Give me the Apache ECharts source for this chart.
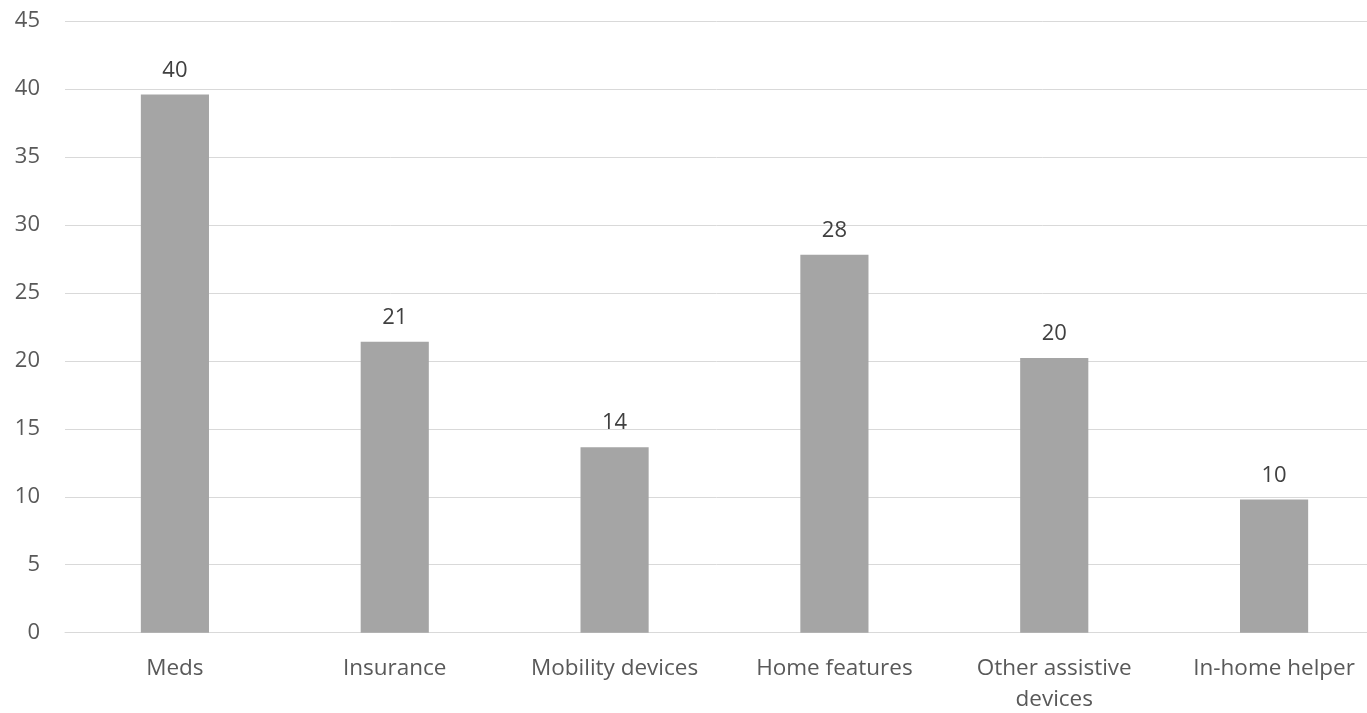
<!DOCTYPE html>
<html>
<head>
<meta charset="utf-8">
<script src="https://cdn.jsdelivr.net/npm/echarts@6/dist/echarts.min.js"></script>
<style>
html,body{margin:0;padding:0;background:#fff;}
#chart{width:1367px;height:713px;}
</style>
</head>
<body>
<div id="chart"></div>
<script>
const categories = ["Meds", "Insurance", "Mobility devices", "Home features", "Other assistive\ndevices", "In-home helper"];
const values = [39.6, 21.4, 13.65, 27.8, 20.2, 9.8];
const yTicks = { min: 0, max: 45, interval: 5 };

const chart = echarts.init(document.getElementById('chart'));
chart.setOption({
  animation: false,
  backgroundColor: '#ffffff',
  grid: { left: 65, width: 1319, top: 21, bottom: 80.3, containLabel: false, outerBoundsMode: 'none' },
  xAxis: {
    type: 'category',
    data: categories,
    axisLine: { show: true, lineStyle: { color: '#d9d9d9', width: 1 } },
    axisTick: { show: false },
    axisLabel: {
      color: '#595959', fontFamily: 'Open Sans', fontSize: 22.5,
      lineHeight: 31, margin: 20, interval: 0
    }
  },
  yAxis: {
    type: 'value',
    min: yTicks.min, max: yTicks.max, interval: yTicks.interval,
    axisLine: { show: false },
    axisTick: { show: false },
    splitLine: { lineStyle: { color: '#d9d9d9', width: 1 } },
    axisLabel: { color: '#595959', fontFamily: 'Open Sans', fontSize: 22, margin: 25 }
  },
  series: [{
    type: 'bar',
    data: values,
    barWidth: '31%',
    itemStyle: { color: '#a5a5a5' },
    label: {
      show: true, position: 'top', distance: 12,
      color: '#404040', fontFamily: 'Open Sans', fontSize: 22, lineHeight: 24,
      formatter: p => Math.round(p.value)
    }
  }]
});
</script>
</body>
</html>
